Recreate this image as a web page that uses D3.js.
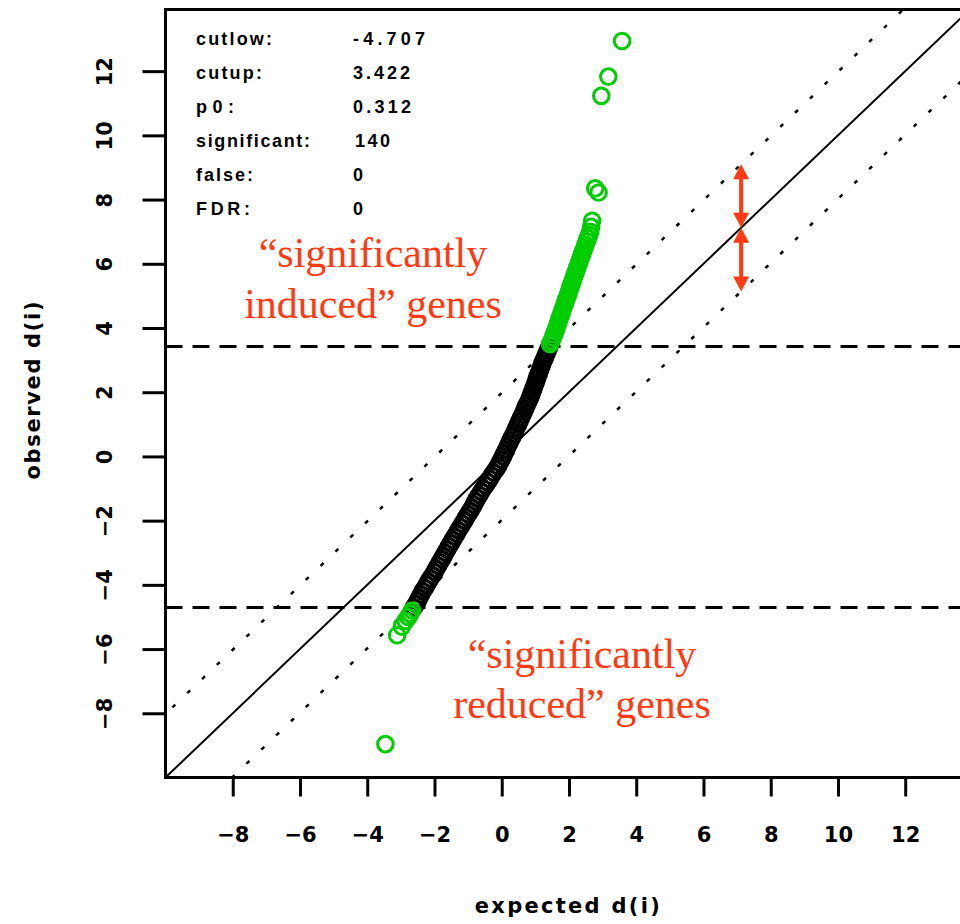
<!DOCTYPE html>
<html>
<head>
<meta charset="utf-8">
<script src="https://cdn.jsdelivr.net/npm/d3@7"></script>
<style>
  html, body { margin: 0; padding: 0; background: #ffffff; }
  svg { display: block; }
</style>
</head>
<body>
<svg id="chart" width="960" height="924"></svg>
<script>
// ---------------- data ----------------
const xTicks = [-8, -6, -4, -2, 0, 2, 4, 6, 8, 10, 12];
const yTicks = [-8, -6, -4, -2, 0, 2, 4, 6, 8, 10, 12];
const cutlow = -4.707;
const cutup = 3.422;
const delta = 1.98;
const arrowAt = 7.12;

const statLabels = ["cutlow:", "cutup:", "p0:", "significant:", "false:", "FDR:"];
const statValues = ["-4.707", "3.422", "0.312", "140", "0", "0"];

const annotationUp = ["\u201Csignificantly", "induced\u201D genes"];
const annotationDown = ["\u201Csignificantly", "reduced\u201D genes"];

// expected d(i) and observed d(i) (sorted genes)
const expectedD = [
  -3.46, -3.11, -2.97, -2.86,
  -2.78, -2.72, -2.67, -2.61, -2.55, -2.50, -2.45, -2.40, -2.35, -2.29,
  -2.23, -2.18, -2.12, -2.06, -2.00, -1.95, -1.89, -1.84, -1.78, -1.73,
  -1.68, -1.62, -1.57, -1.51, -1.46, -1.40, -1.34, -1.29, -1.23, -1.17,
  -1.11, -1.06, -1.00, -0.94, -0.88, -0.83, -0.78, -0.73, -0.67, -0.61,
  -0.55, -0.48, -0.42, -0.36, -0.30, -0.24, -0.17, -0.11, -0.06, -0.01,
   0.04,  0.08,  0.13,  0.17,  0.22,  0.26,  0.31,  0.36,  0.40,  0.44,
   0.49,  0.53,  0.57,  0.62,  0.66,  0.70,  0.74,  0.79,  0.83,  0.87,
   0.90,  0.94,  0.97,  1.01,  1.04,  1.07,  1.11,  1.14,  1.18,  1.21,
   1.25,  1.29,  1.33,  1.37,  1.41,  1.44,  1.48,  1.52,  1.56,  1.59,
   1.63,  1.66,  1.69,  1.72,  1.76,  1.79,  1.82,  1.86,  1.89,  1.92,
   1.96,  1.99,  2.02,  2.05,  2.09,  2.12,  2.15,  2.19,  2.22,  2.25,
   2.29,  2.32,  2.36,  2.39,  2.42,  2.46,  2.49,  2.53,  2.56,  2.60,
   2.63,  2.66,  2.69,
   2.88,  2.78,  2.96,  3.17,  3.58
];
const observedD = [
  -8.96, -5.57, -5.30, -5.12,
  -5.00, -4.90, -4.80, -4.70, -4.60, -4.50, -4.40, -4.30, -4.20, -4.10,
  -4.00, -3.90, -3.80, -3.70, -3.60, -3.50, -3.40, -3.30, -3.20, -3.10,
  -3.00, -2.90, -2.80, -2.70, -2.60, -2.50, -2.40, -2.30, -2.20, -2.10,
  -2.00, -1.90, -1.80, -1.70, -1.60, -1.50, -1.40, -1.30, -1.20, -1.10,
  -1.00, -0.90, -0.80, -0.70, -0.60, -0.50, -0.40, -0.30, -0.20, -0.10,
   0.00,  0.10,  0.20,  0.30,  0.40,  0.50,  0.60,  0.70,  0.80,  0.90,
   1.00,  1.10,  1.20,  1.30,  1.40,  1.50,  1.60,  1.70,  1.80,  1.90,
   2.00,  2.10,  2.20,  2.30,  2.40,  2.50,  2.60,  2.70,  2.80,  2.90,
   3.00,  3.10,  3.20,  3.30,  3.40,  3.50,  3.60,  3.70,  3.80,  3.90,
   4.00,  4.10,  4.20,  4.30,  4.40,  4.50,  4.60,  4.70,  4.80,  4.90,
   5.00,  5.10,  5.20,  5.30,  5.40,  5.50,  5.60,  5.70,  5.80,  5.90,
   6.00,  6.10,  6.20,  6.30,  6.40,  6.50,  6.60,  6.70,  6.80,  6.90,
   7.00,  7.15,  7.34,
   8.22,  8.35, 11.23, 11.83, 12.94
];

// ---------------- layout ----------------
const W = 960, H = 924;
const plotLeft = 165.5, plotTop = 9.5, plotBottom = 777.5, plotRight = 969.1;
const BLACK = "#000000", GREEN = "#00cd00", RED = "#ff3a12";
const AXIS_FONT = "DejaVu Sans, sans-serif";
const R = 7.8, SW = 3;

const svg = d3.select("#chart");

const x = d3.scaleLinear().domain([-10, 13.9]).range([plotLeft, plotRight]);
const y = d3.scaleLinear().domain([-10, 13.92]).range([plotBottom, plotTop]);

svg.append("rect").attr("width", W).attr("height", H).attr("fill", "#fff");

svg.append("defs").append("clipPath").attr("id", "plotclip")
  .append("rect")
  .attr("x", plotLeft).attr("y", plotTop)
  .attr("width", plotRight - plotLeft).attr("height", plotBottom - plotTop);

const plot = svg.append("g").attr("clip-path", "url(#plotclip)");

const line = d3.line().x(d => x(d[0])).y(d => y(d[1]));

// diagonal y = x
plot.append("path")
  .attr("d", line([[-10, -10], [14, 14]]))
  .attr("fill", "none").attr("stroke", BLACK).attr("stroke-width", 2);

// delta band lines
[delta, -delta].forEach(d => {
  plot.append("path")
    .attr("d", line([[-12, -12 + d], [16, 16 + d]]))
    .attr("fill", "none").attr("stroke", BLACK)
    .attr("stroke-width", 2.5)
    .attr("stroke-dasharray", "4,16.5");
});

// cutoff lines
[cutup, cutlow].forEach(c => {
  plot.append("path")
    .attr("d", line([[-10, c], [14, c]]))
    .attr("fill", "none").attr("stroke", BLACK)
    .attr("stroke-width", 3)
    .attr("stroke-dasharray", "17,10");
});

// points
const pts = expectedD.map((e, i) => ({
  e: e, o: observedD[i],
  sig: observedD[i] >= cutup || observedD[i] <= cutlow
}));

plot.append("g").selectAll("circle")
  .data(pts.filter(p => !p.sig))
  .join("circle")
  .attr("cx", p => x(p.e)).attr("cy", p => y(p.o))
  .attr("r", R)
  .attr("fill", "none").attr("stroke", BLACK).attr("stroke-width", SW);

plot.append("g").selectAll("circle")
  .data(pts.filter(p => p.sig))
  .join("circle")
  .attr("cx", p => x(p.e)).attr("cy", p => y(p.o))
  .attr("r", R)
  .attr("fill", "none").attr("stroke", GREEN).attr("stroke-width", SW);

// plot box
svg.append("rect")
  .attr("x", plotLeft).attr("y", plotTop)
  .attr("width", plotRight - plotLeft).attr("height", plotBottom - plotTop)
  .attr("fill", "none").attr("stroke", BLACK).attr("stroke-width", 3);

// x axis
const gx = svg.append("g")
  .attr("transform", `translate(0,${plotBottom})`)
  .call(d3.axisBottom(x).tickValues(xTicks).tickSize(19).tickPadding(31));
gx.select(".domain").remove();
gx.selectAll(".tick line").attr("stroke", BLACK).attr("stroke-width", 3);
gx.selectAll(".tick text")
  .attr("font-family", AXIS_FONT).attr("font-weight", "bold")
  .attr("font-size", 21).attr("fill", BLACK);

// y axis
const gy = svg.append("g")
  .attr("transform", `translate(${plotLeft},0)`)
  .call(d3.axisLeft(y).tickValues(yTicks).tickSize(23));
gy.select(".domain").remove();
gy.selectAll(".tick line").attr("stroke", BLACK).attr("stroke-width", 3);
gy.selectAll(".tick text")
  .attr("x", null).attr("dy", null)
  .attr("text-anchor", "middle")
  .attr("transform", `translate(${112 - plotLeft},0) rotate(-90)`)
  .attr("font-family", AXIS_FONT).attr("font-weight", "bold")
  .attr("font-size", 21).attr("fill", BLACK);

// axis titles
svg.append("text")
  .attr("x", (plotLeft + plotRight) / 2).attr("y", 913)
  .attr("text-anchor", "middle")
  .attr("font-family", AXIS_FONT).attr("font-weight", "bold").attr("font-size", 21)
  .attr("textLength", 185).attr("lengthAdjust", "spacing")
  .text("expected d(i)");

svg.append("text")
  .attr("transform", `translate(40,${(plotTop + plotBottom) / 2 - 3}) rotate(-90)`)
  .attr("text-anchor", "middle")
  .attr("font-family", AXIS_FONT).attr("font-weight", "bold").attr("font-size", 21)
  .attr("textLength", 178).attr("lengthAdjust", "spacing")
  .text("observed d(i)");

// stats block
const labelWidths = [76, 66, 38, 114, 57, 54];
const valueWidths = [72, 57, 58, 35, 11, 11];
const rowBase = [45, 79, 113, 147, 181, 215];
const stats = svg.append("g")
  .attr("font-family", "Liberation Sans, Arial, sans-serif")
  .attr("font-weight", "bold")
  .attr("font-size", 18).attr("fill", BLACK);
statLabels.forEach((s, i) => {
  stats.append("text").attr("x", 196).attr("y", rowBase[i])
    .attr("textLength", labelWidths[i]).attr("lengthAdjust", "spacing")
    .text(s);
  stats.append("text").attr("x", i === 3 ? 355 : 353).attr("y", rowBase[i])
    .attr("textLength", valueWidths[i]).attr("lengthAdjust", "spacing")
    .text(statValues[i]);
});

// red annotations
const ann = svg.append("g")
  .attr("font-family", "Liberation Serif, Times New Roman, serif")
  .attr("font-size", 42).attr("fill", RED).attr("text-anchor", "middle");
ann.append("text").attr("x", 373).attr("y", 267).text(annotationUp[0]);
ann.append("text").attr("x", 373).attr("y", 318).text(annotationUp[1]);
ann.append("text").attr("x", 582).attr("y", 668).text(annotationDown[0]);
ann.append("text").attr("x", 582).attr("y", 718).text(annotationDown[1]);

// double-headed arrows from the diagonal to the delta lines
function arrow(xv, yTop, yBot) {
  const ax = x(xv), y1 = y(yTop), y2 = y(yBot);
  const hh = 15, hw = 8;
  const g = svg.append("g").attr("fill", RED);
  g.append("line")
    .attr("x1", ax).attr("x2", ax).attr("y1", y1 + hh - 1).attr("y2", y2 - hh + 1)
    .attr("stroke", RED).attr("stroke-width", 4);
  g.append("path").attr("d", `M${ax},${y1} L${ax - hw},${y1 + hh} L${ax + hw},${y1 + hh} Z`);
  g.append("path").attr("d", `M${ax},${y2} L${ax - hw},${y2 - hh} L${ax + hw},${y2 - hh} Z`);
}
arrow(arrowAt, arrowAt + delta, arrowAt);
arrow(arrowAt, arrowAt, arrowAt - delta);
</script>
</body>
</html>
